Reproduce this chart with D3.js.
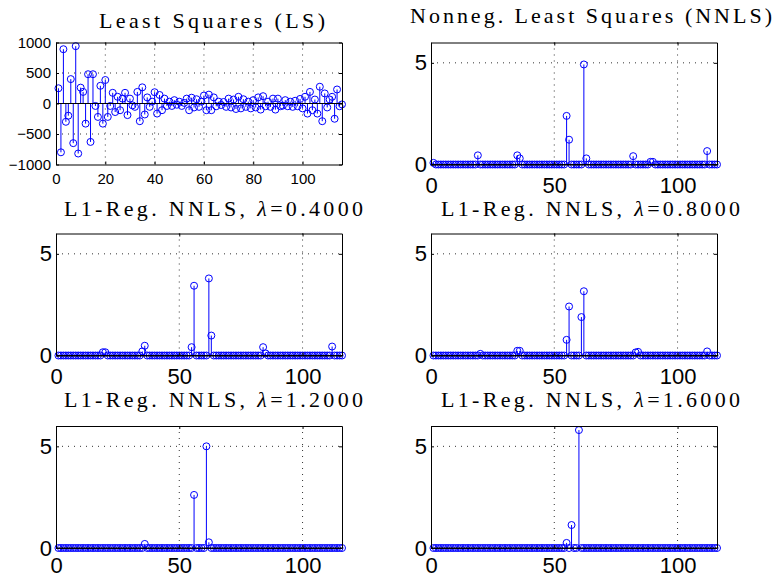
<!DOCTYPE html>
<html>
<head>
<meta charset="utf-8">
<style>
    body { margin: 0; background: #fff; }
    svg { display: block; }
    .title { font-family: "Liberation Serif", "DejaVu Serif", serif; fill: #000; }
    .axis text { font-family: "Liberation Sans", Arial, Helvetica, sans-serif; fill: #000; }
    .axis path, .axis line { stroke: #000; stroke-width: 1; }
    .grid { stroke: #333; stroke-width: 1; stroke-dasharray: 1,5; }
</style>
</head>
<body>
<svg id="chart" width="784" height="579"></svg>

<script src="https://cdn.jsdelivr.net/npm/d3@7"></script>
<script>
    // least squares solution, coefficient index 1..116
    var lsValues = [
        250, -800, 890, -300, -200, 400, -650, 940, -820, 260,
        190, -330, 480, -630, 480, -40, -220, 290, -330, 385,
        -220, -40, 175, -140, 110, -110, 80, 175, -190, 80,
        -30, -55, 190, -290, 265, -180, 100, -55, 30, 185,
        -165, 140, -110, 80, -40, 30, -40, 55, -20, 30,
        -40, 10, 80, -110, 95, -65, 70, -55, 30, 130,
        -110, 145, -110, 100, -45, 30, -25, 25, -55, 80,
        -65, 65, -90, 110, -80, 70, -55, 30, -80, 55,
        -65, 100, -100, 120, -45, 30, -55, 80, -100, 80,
        -45, -35, 55, -45, 30, -55, 45, -45, 75, -80,
        110, -165, 190, -110, 65, -165, 275, -290, 165, -65,
        65, 110, -250, 230, -45, -15
    ];

    // non-zero coefficients as [index, value]; every other coefficient is 0
    var nnlsNonzero = [[1, 0.08], [19, 0.45], [35, 0.45], [36, 0.3], [55, 2.39], [56, 1.22],
        [62, 4.92], [63, 0.3], [82, 0.41], [89, 0.13], [90, 0.13], [112, 0.66]];
    var reg04Nonzero = [[19, 0.16], [20, 0.16], [35, 0.2], [36, 0.48], [55, 0.41], [56, 3.43],
        [62, 3.79], [63, 0.98], [84, 0.41], [85, 0.1], [112, 0.44]];
    var reg08Nonzero = [[20, 0.08], [35, 0.23], [36, 0.23], [55, 0.77], [56, 2.41], [61, 1.89],
        [62, 3.16], [83, 0.15], [84, 0.18], [112, 0.2]];
    var reg12Nonzero = [[36, 0.2], [56, 2.61], [61, 5.0], [62, 0.28]];
    var reg16Nonzero = [[55, 0.25], [57, 1.13], [60, 5.8]];

    var titles = ["Least Squares (LS)", "Nonneg. Least Squares (NNLS)",
        "L1-Reg. NNLS, |=0.4000", "L1-Reg. NNLS, |=0.8000",
        "L1-Reg. NNLS, |=1.2000", "L1-Reg. NNLS, |=1.6000"];

    var lsXTicks = [0, 20, 40, 60, 80, 100];
    var lsYTicks = [-1000, -500, 0, 500, 1000];
    var nnXTicks = [0, 50, 100];
    var nnYTicks = [0, 5];

    var nCoef = lsValues.length;

    function fullSeries(nonzero) {
        var v = lsValues.map(function () { return 0; });
        nonzero.forEach(function (p) { v[p[0] - 1] = p[1]; });
        return v;
    }

    var colL = 56, colR = 431, plotW = 286, plotH = 122;
    var panels = [
        { values: lsValues, left: colL, top: 42.5, yDomain: [-1000, 1000], xTicks: lsXTicks, yTicks: lsYTicks,
          font: 15, xPad: 9, yPad: 5, titleX: 99, titleY: 28.3, titleW: 226 },
        { values: fullSeries(nnlsNonzero), left: colR, top: 42.5, yDomain: [0, 6], xTicks: nnXTicks, yTicks: nnYTicks,
          font: 22, xPad: 12.5, yPad: 4, titleX: 410, titleY: 22.7, titleW: 362 },
        { values: fullSeries(reg04Nonzero), left: colL, top: 233.5, yDomain: [0, 6], xTicks: nnXTicks, yTicks: nnYTicks,
          font: 22, xPad: 13, yPad: 4, titleX: 64, titleY: 216, titleW: 299 },
        { values: fullSeries(reg08Nonzero), left: colR, top: 233.5, yDomain: [0, 6], xTicks: nnXTicks, yTicks: nnYTicks,
          font: 22, xPad: 13, yPad: 4, titleX: 441, titleY: 216, titleW: 299 },
        { values: fullSeries(reg12Nonzero), left: colL, top: 426, yDomain: [0, 6], xTicks: nnXTicks, yTicks: nnYTicks,
          font: 22, xPad: 9, yPad: 4, titleX: 64, titleY: 407.3, titleW: 299 },
        { values: fullSeries(reg16Nonzero), left: colR, top: 426, yDomain: [0, 6], xTicks: nnXTicks, yTicks: nnYTicks,
          font: 22, xPad: 9, yPad: 4, titleX: 441, titleY: 406.7, titleW: 299 }
    ];

    var svg = d3.select("#chart");

    panels.forEach(function (p, k) {
        var g = svg.append("g").attr("transform", "translate(" + p.left + "," + p.top + ")");
        var x = d3.scaleLinear().domain([0, nCoef]).range([0, plotW]);
        var y = d3.scaleLinear().domain(p.yDomain).range([plotH, 0]);
        var fmt = d3.format("d");

        /* dotted grid */
        g.selectAll(".gx").data(p.xTicks.filter(function (t) { return t > 0 && t < nCoef; }))
            .enter().append("line").attr("class", "grid")
            .attr("x1", function (d) { return x(d); }).attr("x2", function (d) { return x(d); })
            .attr("y1", 0).attr("y2", plotH);
        g.selectAll(".gy").data(p.yTicks.filter(function (t) { return t > p.yDomain[0] && t < p.yDomain[1]; }))
            .enter().append("line").attr("class", "grid")
            .attr("x1", 0).attr("x2", plotW)
            .attr("y1", function (d) { return y(d); }).attr("y2", function (d) { return y(d); });

        /* stems */
        var pts = p.values.map(function (v, i) { return { i: i + 1, v: v }; });
        g.selectAll(".stem").data(pts.filter(function (d) { return d.v !== 0; }))
            .enter().append("line")
            .attr("x1", function (d) { return x(d.i); }).attr("x2", function (d) { return x(d.i); })
            .attr("y1", y(0)).attr("y2", function (d) { return y(d.v); })
            .attr("stroke", "#0000ff").attr("stroke-width", 1);

        g.selectAll(".mark").data(pts)
            .enter().append("circle")
            .attr("cx", function (d) { return x(d.i); })
            .attr("cy", function (d) { return y(d.v); })
            .attr("r", 3.5)
            .attr("fill", "none").attr("stroke", "#0000ff").attr("stroke-width", 1);

        /* stem baseline */
        g.append("line")
            .attr("x1", 0).attr("x2", plotW).attr("y1", y(0)).attr("y2", y(0))
            .attr("stroke", "#000").attr("stroke-width", 1);

        /* axes with inward ticks, box on */
        var xb = g.append("g").attr("class", "axis").attr("transform", "translate(0," + plotH + ")")
            .call(d3.axisBottom(x).tickValues(p.xTicks).tickFormat(fmt).tickSizeInner(-3).tickSizeOuter(0).tickPadding(p.xPad));
        var yl = g.append("g").attr("class", "axis")
            .call(d3.axisLeft(y).tickValues(p.yTicks).tickFormat(fmt).tickSizeInner(-3).tickSizeOuter(0).tickPadding(p.yPad));
        g.append("g").attr("class", "axis")
            .call(d3.axisTop(x).tickValues(p.xTicks).tickFormat("").tickSizeInner(-3).tickSizeOuter(0));
        g.append("g").attr("class", "axis").attr("transform", "translate(" + plotW + ",0)")
            .call(d3.axisRight(y).tickValues(p.yTicks).tickFormat("").tickSizeInner(-3).tickSizeOuter(0));
        [xb, yl].forEach(function (a) {
            a.attr("font-size", p.font).attr("font-family", null);
        });

        /* title, lambda set in italics */
        var parts = titles[k].split("|");
        var t = svg.append("text").attr("class", "title")
            .attr("x", p.titleX).attr("y", p.titleY)
            .attr("font-size", 22)
            .attr("textLength", p.titleW).attr("lengthAdjust", "spacing");
        t.append("tspan").text(parts[0]);
        if (parts.length > 1) {
            t.append("tspan").attr("font-style", "italic").text("\u03bb");
            t.append("tspan").text(parts[1]);
        }
    });
</script>
</body>
</html>
